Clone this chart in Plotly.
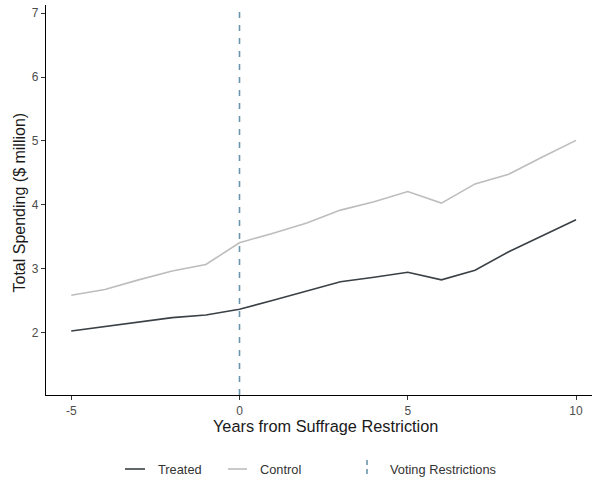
import plotly.graph_objects as go

years = list(range(-5, 11))
treated = [2.03, 2.10, 2.18, 2.24, 2.28, 2.37, 2.51, 2.65, 2.80, 2.87, 2.95, 2.83, 2.98, 3.27, 3.52, 3.77]
control = [2.59, 2.68, 2.83, 2.97, 3.07, 3.41, 3.56, 3.72, 3.92, 4.05, 4.21, 4.03, 4.33, 4.48, 4.75, 5.01]
restriction_year = 0
x_ticks = [-5, 0, 5, 10]
y_ticks = [2, 3, 4, 5, 6, 7]

TREATED_C = "#3a4045"
CONTROL_C = "#bdbdbd"
VLINE_C = "#6a95ac"
FONT = "Liberation Sans, Arial, sans-serif"

fig = go.Figure()
fig.add_trace(go.Scatter(x=years, y=control, mode="lines", name="Control",
                         line=dict(color=CONTROL_C, width=1.6), showlegend=False))
fig.add_trace(go.Scatter(x=years, y=treated, mode="lines", name="Treated",
                         line=dict(color=TREATED_C, width=1.6), showlegend=False))

fig.add_shape(type="line", xref="x", yref="paper", x0=restriction_year, x1=restriction_year,
              y0=0, y1=0.982, line=dict(color=VLINE_C, width=1.6, dash="6px,7px"))

fig.update_layout(
    width=592, height=482,
    margin=dict(l=46, r=0, t=5, b=87),
    paper_bgcolor="white", plot_bgcolor="white",
    font=dict(family=FONT),
    xaxis=dict(range=[-5.75, 10.475], tickvals=x_ticks, ticktext=[str(v) for v in x_ticks],
               showgrid=False, zeroline=False, showline=True, linecolor="black", linewidth=1.2,
               ticks="outside", ticklen=4, tickcolor="#333333",
               tickfont=dict(size=12, color="#4d4d4d", family=FONT)),
    yaxis=dict(range=[1.031, 7.125], tickvals=y_ticks, ticktext=[str(v) for v in y_ticks],
               showgrid=False, zeroline=False, showline=True, linecolor="black", linewidth=1.2,
               ticks="outside", ticklen=4, tickcolor="#333333",
               tickfont=dict(size=12, color="#4d4d4d", family=FONT)),
)

# axis titles
fig.add_annotation(text="Years from Suffrage Restriction", xref="paper", yref="paper",
                   x=(325 - 46) / 546, y=-(425.5 - 395) / 390, showarrow=False,
                   font=dict(size=16.3, color="#1a1a1a", family=FONT), yanchor="middle", xanchor="center")
fig.add_annotation(text="Total Spending ($ million)", xref="paper", yref="paper",
                   x=-(46 - 19) / 546, y=(395 - 202.5) / 390, showarrow=False, textangle=-90,
                   font=dict(size=16, color="#1a1a1a", family=FONT), yanchor="middle", xanchor="center")

# manual legend (paper coords)
def px(xp):
    return (xp - 46) / 546

def py(yp):
    return (395 - yp) / 390

ly = 469
fig.add_shape(type="line", xref="paper", yref="paper", x0=px(125), x1=px(145), y0=py(ly), y1=py(ly),
              line=dict(color=TREATED_C, width=1.6))
fig.add_annotation(text="Treated", xref="paper", yref="paper", x=px(156), y=py(ly), showarrow=False,
                   xanchor="left", yanchor="middle", font=dict(size=12.8, color="#333333", family=FONT))
fig.add_shape(type="line", xref="paper", yref="paper", x0=px(228), x1=px(247), y0=py(ly), y1=py(ly),
              line=dict(color=CONTROL_C, width=1.6))
fig.add_annotation(text="Control", xref="paper", yref="paper", x=px(258), y=py(ly), showarrow=False,
                   xanchor="left", yanchor="middle", font=dict(size=12.8, color="#333333", family=FONT))
fig.add_shape(type="line", xref="paper", yref="paper", x0=px(367), x1=px(367), y0=py(460), y1=py(477),
              line=dict(color=VLINE_C, width=1.6, dash="5px,4px"))
fig.add_annotation(text="Voting Restrictions", xref="paper", yref="paper", x=px(388), y=py(ly),
                   showarrow=False, xanchor="left", yanchor="middle",
                   font=dict(size=12.8, color="#333333", family=FONT))

fig.write_html("out.html", config={"displayModeBar": False},
               post_script="document.body.style.margin='0';")
